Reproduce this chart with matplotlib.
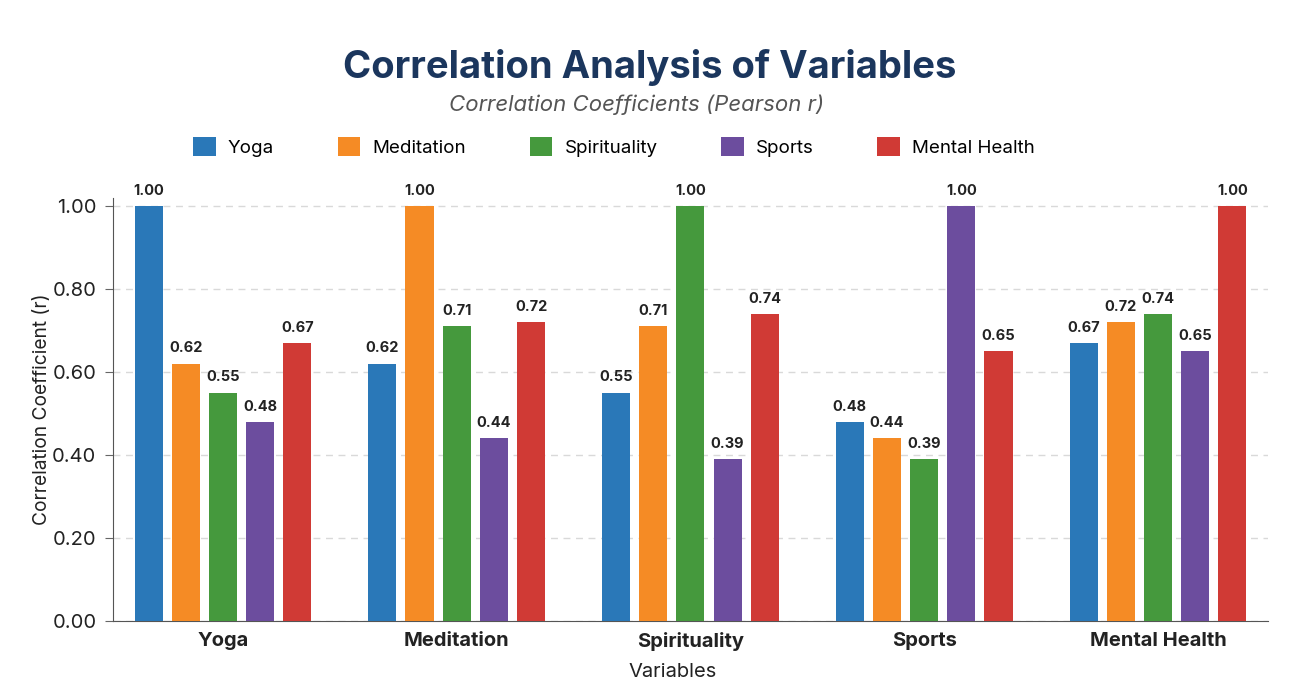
import numpy as np
import matplotlib
matplotlib.use("Agg")
import matplotlib.pyplot as plt

plt.rcParams['font.family'] = ['Inter', 'DejaVu Sans']

## ---------------- dados ----------------
variaveis = ['Yoga', 'Meditation', 'Spirituality', 'Sports', 'Mental Health']
r_yoga = [1.00, 0.62, 0.55, 0.48, 0.67]
r_meditation = [0.62, 1.00, 0.71, 0.44, 0.72]
r_spirituality = [0.55, 0.71, 1.00, 0.39, 0.74]
r_sports = [0.48, 0.44, 0.39, 1.00, 0.65]
r_mental = [0.67, 0.72, 0.74, 0.65, 1.00]
series = [r_yoga, r_meditation, r_spirituality, r_sports, r_mental]
yticks = [0.0, 0.2, 0.4, 0.6, 0.8, 1.0]

cores = ['#2a78b8', '#f58b25', '#45993d', '#6c4d9e', '#d03a35']

## ---------------- figura ----------------
fig = plt.figure(figsize=(13.07, 6.85), dpi=100)
ax = fig.add_axes([0.0865, 0.0934, 0.8835, 0.618])

x = np.arange(len(variaveis))
passo = 0.159
larg = 0.12
for i, nome in enumerate(variaveis):
    # barra i no grupo k = r(variavel k, variavel i)
    hs = [series[k][i] for k in range(len(variaveis))]
    pos = x + (i - 2) * passo
    ax.bar(pos, hs, width=larg, color=cores[i], label=nome, zorder=3)
    for px, h in zip(pos, hs):
        ax.text(px, h + 0.02, f'{h:.2f}', ha='center', va='bottom',
                fontsize=10.5, fontweight='bold', color='#222222', zorder=4)

ax.set_xlim(-0.47, 4.47)
ax.set_ylim(0, 1.02)
ax.set_yticks(yticks)
ax.set_yticklabels([f'{t:.2f}' for t in yticks], fontsize=14.5, color='#222222')
ax.set_xticks(x)
ax.set_xticklabels(variaveis, fontsize=14.5, fontweight='bold', color='#222222')
ax.tick_params(axis='x', length=0, pad=8)
ax.tick_params(axis='y', length=6, color='#666666', pad=6)
ax.grid(axis='y', linestyle=(0, (5, 4)), color='#d9d9d9', linewidth=1, zorder=0)
for s in ['top', 'right']:
    ax.spines[s].set_visible(False)
ax.spines['left'].set_color('#555555')
ax.spines['bottom'].set_color('#555555')
ax.set_xlabel('Variables', fontsize=14.5, color='#222222')
ax.xaxis.set_label_coords((673 - 113) / (1268 - 113), -0.1)
ax.set_ylabel('Correlation Coefficient (r)', fontsize=13.8, color='#222222', labelpad=1)

fig.text(0.497, 1 - 68 / 685, 'Correlation Analysis of Variables', ha='center', va='center',
         fontsize=27.5, fontweight='bold', color='#1b365d')
fig.text(637 / 1307, 1 - 105 / 685, 'Correlation Coefficients (Pearson r)', ha='center',
         va='center', fontsize=16, style='italic', color='#555555')

fig.legend(loc='center', bbox_to_anchor=(614 / 1307, 1 - 147 / 685), ncol=5, frameon=False,
           fontsize=13.5, handlelength=1.2, handleheight=1.2, columnspacing=3.4,
           handletextpad=0.65)

fig.savefig('out.png', dpi=100, facecolor='white')
